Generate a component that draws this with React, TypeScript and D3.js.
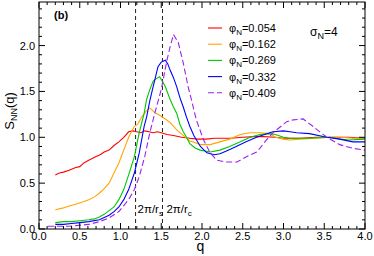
import React, { useEffect, useRef } from 'react';
import * as d3 from 'd3';

// phi_N = 0.054
const qRed = [0.2, 0.25, 0.3, 0.37, 0.45, 0.5, 0.55, 0.61, 0.7, 0.75, 0.8, 0.86, 0.92, 0.98, 1.04, 1.1, 1.15, 1.2, 1.25, 1.3, 1.35, 1.4, 1.45, 1.5, 1.57, 1.65, 1.75, 1.85, 1.95, 2.05, 2.15, 2.25, 2.35, 2.5, 2.7, 2.9, 3.0, 3.2, 3.4, 3.6, 3.8, 4.0];
const sRed = [0.59, 0.61, 0.62, 0.64, 0.67, 0.68, 0.72, 0.75, 0.79, 0.81, 0.84, 0.86, 0.91, 0.95, 1.0, 1.06, 1.07, 1.06, 1.05, 1.07, 1.06, 1.05, 1.06, 1.05, 1.03, 1.02, 1.0, 0.99, 0.98, 0.98, 0.99, 0.99, 0.99, 1.0, 1.01, 1.0, 0.99, 0.99, 1.0, 1.0, 1.0, 0.99];

// phi_N = 0.162
const qOrange = [0.2, 0.3, 0.37, 0.45, 0.55, 0.61, 0.68, 0.74, 0.8, 0.86, 0.92, 0.98, 1.04, 1.1, 1.17, 1.21, 1.26, 1.31, 1.36, 1.42, 1.48, 1.55, 1.61, 1.69, 1.77, 1.85, 1.92, 1.98, 2.1, 2.22, 2.34, 2.47, 2.59, 2.71, 2.83, 2.9, 3.0, 3.08, 3.2, 3.4, 3.57, 3.7, 3.85, 4.0];
const sOrange = [0.21, 0.23, 0.25, 0.27, 0.3, 0.32, 0.35, 0.39, 0.44, 0.5, 0.61, 0.72, 0.86, 1.0, 1.12, 1.14, 1.22, 1.28, 1.32, 1.27, 1.24, 1.2, 1.16, 1.08, 1.02, 0.96, 0.94, 0.92, 0.92, 0.95, 0.98, 1.03, 1.05, 1.05, 1.04, 1.0, 0.98, 0.97, 0.98, 0.99, 1.0, 1.0, 0.99, 0.99];

// phi_N = 0.269
const qGreen = [0.2, 0.3, 0.4, 0.5, 0.61, 0.68, 0.74, 0.8, 0.86, 0.92, 0.98, 1.04, 1.1, 1.17, 1.23, 1.29, 1.32, 1.36, 1.4, 1.44, 1.48, 1.52, 1.55, 1.61, 1.65, 1.69, 1.73, 1.77, 1.81, 1.85, 1.92, 1.98, 2.1, 2.22, 2.34, 2.47, 2.59, 2.71, 2.83, 2.9, 3.0, 3.08, 3.3, 3.57, 3.7, 3.8, 4.0];
const sGreen = [0.07, 0.08, 0.08, 0.09, 0.1, 0.11, 0.13, 0.16, 0.2, 0.24, 0.32, 0.43, 0.59, 0.79, 1.05, 1.26, 1.41, 1.52, 1.61, 1.64, 1.66, 1.6, 1.55, 1.41, 1.33, 1.26, 1.14, 1.06, 1.0, 0.93, 0.88, 0.86, 0.84, 0.86, 0.9, 0.95, 1.0, 1.03, 1.04, 1.03, 1.0, 0.99, 0.99, 1.0, 0.98, 0.97, 0.98];

// phi_N = 0.332
const qBlue = [0.2, 0.3, 0.4, 0.5, 0.61, 0.74, 0.86, 0.92, 0.98, 1.04, 1.1, 1.17, 1.23, 1.29, 1.32, 1.36, 1.4, 1.46, 1.5, 1.55, 1.58, 1.61, 1.65, 1.69, 1.73, 1.77, 1.81, 1.85, 1.9, 1.98, 2.06, 2.15, 2.22, 2.3, 2.42, 2.54, 2.67, 2.83, 2.87, 3.0, 3.08, 3.16, 3.32, 3.53, 3.69, 3.85, 4.0];
const sBlue = [0.05, 0.05, 0.06, 0.07, 0.08, 0.1, 0.15, 0.19, 0.24, 0.32, 0.43, 0.61, 0.83, 1.12, 1.22, 1.4, 1.55, 1.77, 1.82, 1.84, 1.8, 1.73, 1.65, 1.55, 1.43, 1.33, 1.22, 1.12, 1.02, 0.9, 0.83, 0.81, 0.82, 0.85, 0.9, 0.95, 1.0, 1.05, 1.06, 1.07, 1.06, 1.05, 1.04, 1.0, 0.98, 0.95, 0.95];

// phi_N = 0.409
const qPurple = [0.11, 0.37, 0.61, 0.74, 0.86, 0.98, 1.1, 1.17, 1.23, 1.3, 1.36, 1.42, 1.5, 1.57, 1.61, 1.65, 1.71, 1.77, 1.83, 1.87, 1.93, 2.02, 2.1, 2.18, 2.3, 2.43, 2.55, 2.67, 2.71, 2.78, 2.87, 3.04, 3.12, 3.24, 3.36, 3.53, 3.69, 3.85, 4.0];
const sPurple = [0.03, 0.03, 0.05, 0.08, 0.12, 0.19, 0.32, 0.43, 0.57, 0.8, 1.05, 1.26, 1.52, 1.84, 1.99, 2.12, 2.03, 1.81, 1.55, 1.41, 1.19, 0.97, 0.83, 0.75, 0.73, 0.73, 0.79, 0.84, 0.88, 0.96, 1.05, 1.17, 1.19, 1.2, 1.12, 1.0, 0.92, 0.88, 0.86];

const phiLabels = ['0.054', '0.162', '0.269', '0.332', '0.409'];
const seriesColors = ['#ff0000', '#ffa500', '#00c800', '#0000ff', '#a020f0'];
const markerQ = [1.185, 1.515]; // 2π/r_s, 2π/r_c
const markerSub = ['s', 'c'];
const xTicks = [0, 0.5, 1, 1.5, 2, 2.5, 3, 3.5, 4];
const yTicks = [0, 0.5, 1, 1.5, 2];

const W = 374;
const H = 256;
const FONT = '"Liberation Sans", Arial, sans-serif';

const Chart = () => {
  const ref = useRef<SVGSVGElement>(null);

  useEffect(() => {
    const svg = d3.select(ref.current);
    svg.selectAll('*').remove();

    const left = 39, right = 365, top = 2, bottom = 229;
    const x = d3.scaleLinear().domain([0, 4]).range([left, right]);
    const y = d3.scaleLinear().domain([0, 2.475]).range([bottom, top]);

    const qs = [qRed, qOrange, qGreen, qBlue, qPurple];
    const ss = [sRed, sOrange, sGreen, sBlue, sPurple];

    // clip
    svg.append('defs').append('clipPath').attr('id', 'plotclip')
      .append('rect').attr('x', left).attr('y', top).attr('width', right - left).attr('height', bottom - top);

    // dashed markers
    markerQ.forEach(q => {
      svg.append('line')
        .attr('x1', x(q)).attr('x2', x(q)).attr('y1', top).attr('y2', bottom)
        .attr('stroke', '#222').attr('stroke-width', 1).attr('stroke-dasharray', '4,3');
    });

    const line = d3.line<[number, number]>()
      .x(d => x(d[0]))
      .y(d => y(d[1]));

    const plot = svg.append('g').attr('clip-path', 'url(#plotclip)');
    qs.forEach((qArr, i) => {
      const pts = qArr.map((q, j) => [q, ss[i][j]] as [number, number]);
      plot.append('path')
        .attr('d', line(pts))
        .attr('fill', 'none')
        .attr('stroke', seriesColors[i])
        .attr('stroke-width', 1.1)
        .attr('stroke-dasharray', i === 4 ? '6,3' : null);
    });

    // frame
    svg.append('rect')
      .attr('x', left).attr('y', top).attr('width', right - left).attr('height', bottom - top)
      .attr('fill', 'none').attr('stroke', '#000').attr('stroke-width', 1);

    // ticks (inward, all four sides)
    const ticks = svg.append('g').attr('stroke', '#000').attr('stroke-width', 1);
    d3.range(0, 41).forEach(k => {
      const v = k / 10;
      const len = k % 5 === 0 ? 6 : 3;
      ticks.append('line').attr('x1', x(v)).attr('x2', x(v)).attr('y1', bottom).attr('y2', bottom - len);
      ticks.append('line').attr('x1', x(v)).attr('x2', x(v)).attr('y1', top).attr('y2', top + len);
    });
    d3.range(0, 25).forEach(k => {
      const v = k / 10;
      const len = k % 5 === 0 ? 6 : 3;
      ticks.append('line').attr('y1', y(v)).attr('y2', y(v)).attr('x1', left).attr('x2', left + len);
      ticks.append('line').attr('y1', y(v)).attr('y2', y(v)).attr('x1', right).attr('x2', right - len);
    });

    // tick labels
    svg.append('g').selectAll('text').data(xTicks).enter().append('text')
      .attr('x', d => x(d)).attr('y', 240)
      .attr('text-anchor', 'middle').style('font-family', FONT).style('font-size', '11px')
      .text(d => d.toFixed(1));
    svg.append('g').selectAll('text').data(yTicks).enter().append('text')
      .attr('x', left - 4).attr('y', d => y(d) + 4)
      .attr('text-anchor', 'end').style('font-family', FONT).style('font-size', '11px')
      .text(d => d.toFixed(1));

    // axis titles
    svg.append('text').attr('x', x(1.98)).attr('y', 251)
      .attr('text-anchor', 'middle').style('font-family', FONT).style('font-size', '14px').text('q');
    const yl = svg.append('text')
      .attr('transform', `translate(14,111) rotate(-90)`)
      .attr('text-anchor', 'middle').style('font-family', FONT).style('font-size', '13px');
    yl.append('tspan').text('S');
    yl.append('tspan').attr('dy', 3).style('font-size', '9px').text('NN');
    yl.append('tspan').attr('dy', -3).text('(q)');

    // panel label
    svg.append('text').attr('x', 54).attr('y', 19)
      .style('font-family', FONT).style('font-size', '11px').style('font-weight', 'bold').text('(b)');

    // sigma label
    const sg = svg.append('text').attr('x', 310).attr('y', 36)
      .style('font-family', FONT).style('font-size', '12px');
    sg.append('tspan').text('σ');
    sg.append('tspan').attr('dy', 3).style('font-size', '9px').text('N');
    sg.append('tspan').attr('dy', -3).text('=4');

    // marker labels
    markerQ.forEach((q, i) => {
      const t = svg.append('text').attr('x', x(q) + 2 + i * 2).attr('y', 213)
        .style('font-family', FONT).style('font-size', '11.5px');
      t.append('tspan').text('2π/r');
      t.append('tspan').attr('dy', 3).style('font-size', '8px').text(markerSub[i]);
    });

    // legend
    const lg = svg.append('g');
    phiLabels.forEach((lab, i) => {
      const yy = 28 + i * 16.2;
      lg.append('line').attr('x1', 208).attr('x2', 222).attr('y1', yy).attr('y2', yy)
        .attr('stroke', seriesColors[i]).attr('stroke-width', 1.1)
        .attr('stroke-dasharray', i === 4 ? '6,3' : null);
      const t = lg.append('text').attr('x', 229).attr('y', yy + 4)
        .style('font-family', FONT).style('font-size', '11px');
      t.append('tspan').text('φ');
      t.append('tspan').attr('dy', 3).style('font-size', '8px').text('N');
      t.append('tspan').attr('dy', -3).text('=' + lab);
    });
  }, []);

  return (
    <svg ref={ref} width={W} height={H}
      style={{ position: 'fixed', left: 0, top: 0, background: '#fff' }}></svg>
  );
};

export default function App() {
  return <Chart />;
}
